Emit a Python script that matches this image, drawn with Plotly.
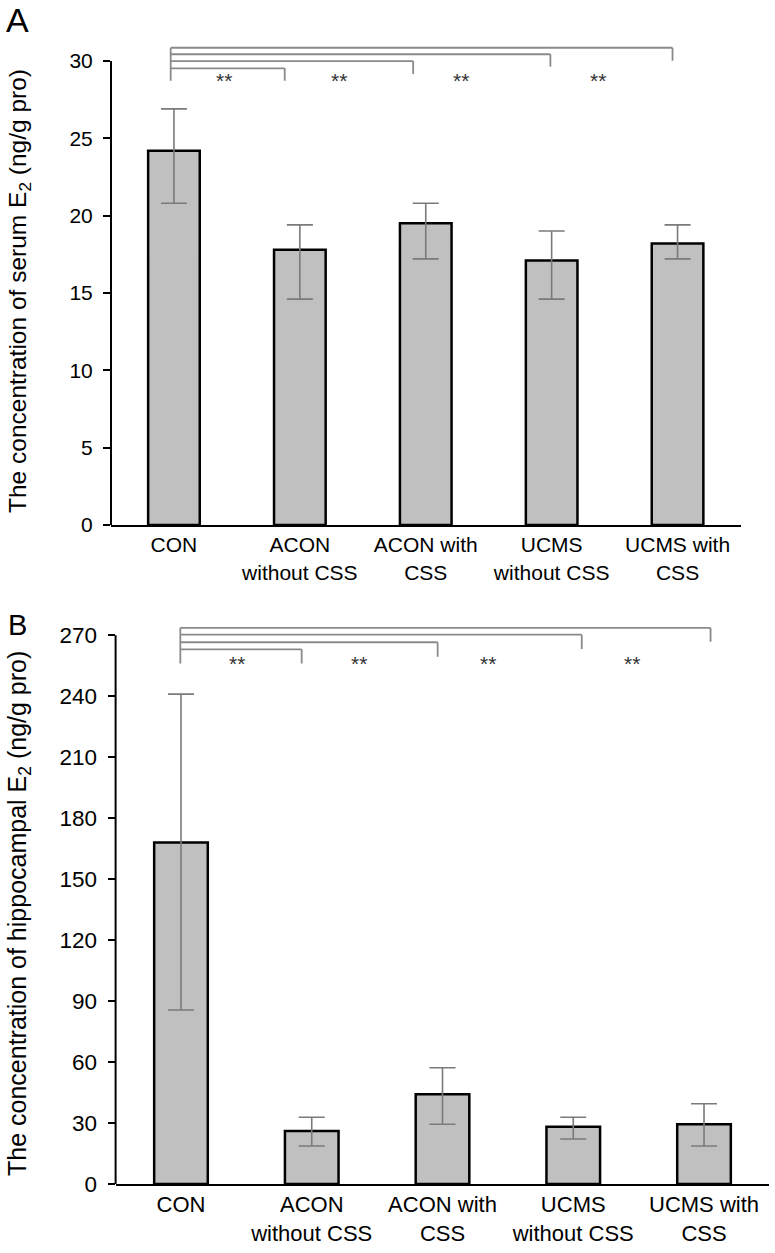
import plotly.graph_objects as go

# ---------------- data ----------------
categories = ["CON", "ACON<br>without CSS", "ACON with<br>CSS", "UCMS<br>without CSS", "UCMS with<br>CSS"]

serum_mean = [24.2, 17.8, 19.5, 17.1, 18.2]
serum_err_plus = [2.7, 1.6, 1.3, 1.9, 1.2]
serum_err_minus = [3.4, 3.2, 2.3, 2.5, 1.0]

hippo_mean = [168.0, 26.1, 44.1, 28.2, 29.4]
hippo_err_plus = [73.0, 6.7, 13.1, 4.6, 10.1]
hippo_err_minus = [82.4, 7.4, 14.7, 6.1, 10.7]

serum_ticks = [0, 5, 10, 15, 20, 25, 30]
hippo_ticks = [0, 30, 60, 90, 120, 150, 180, 210, 240, 270]

# significance brackets (CON vs each group), in axis units
top_bracket_left = -0.026
top_bracket_end = [0.88, 1.90, 2.99, 3.96]
top_bracket_level = [29.52, 29.99, 30.43, 30.85]
top_bracket_drop = [28.72, 29.15, 29.63, 30.01]
top_bracket_left_bottom = 28.72
top_star_x = [0.40, 1.31, 2.28, 3.37]
top_star_y = 28.75

bot_bracket_left = -0.005
bot_bracket_end = [0.923, 1.963, 3.065, 4.05]
bot_bracket_level = [263.0, 266.5, 270.2, 273.6]
bot_bracket_drop = [256.1, 259.4, 263.2, 266.7]
bot_bracket_left_bottom = 256.1
bot_star_x = [0.43, 1.36, 2.35, 3.45]
bot_star_y = 256.0

# ---------------- layout geometry ----------------
W, H = 775, 1253
FONT = "Liberation Sans, Arial, sans-serif"

top_xdom = [111 / W, 740.5 / W]
top_ydom = [1 - 525 / H, 1 - 37.7 / H]
top_yrange = [0, 31.5]

bot_xdom = [115.6 / W, 769.4 / W]
bot_ydom = [1 - 1184 / H, 1 - 614.8 / H]
bot_yrange = [0, 280]

BAR_FILL = "#c0c0c0"
ERR_COLOR = "#7a7a7a"
BRACKET_COLOR = "#8a8a8a"

fig = go.Figure()

x_idx = list(range(len(categories)))

fig.add_trace(go.Bar(
    x=x_idx, y=serum_mean, xaxis="x", yaxis="y",
    marker=dict(color=BAR_FILL, line=dict(color="black", width=2.5)),
    error_y=dict(type="data", symmetric=False, array=serum_err_plus,
                 arrayminus=serum_err_minus, color=ERR_COLOR, thickness=1.6, width=13),
    showlegend=False,
))
fig.add_trace(go.Bar(
    x=x_idx, y=hippo_mean, xaxis="x2", yaxis="y2",
    marker=dict(color=BAR_FILL, line=dict(color="black", width=2.5)),
    error_y=dict(type="data", symmetric=False, array=hippo_err_plus,
                 arrayminus=hippo_err_minus, color=ERR_COLOR, thickness=1.6, width=13),
    showlegend=False,
))

def xaxis_cfg(size):
    return dict(
        range=[-0.5, 4.5], tickmode="array", tickvals=x_idx, ticktext=categories,
        showline=True, linecolor="black", linewidth=2, ticks="", showgrid=False,
        zeroline=False, tickfont=dict(family=FONT, size=size, color="black"),
        fixedrange=True, automargin=False,
    )

def yaxis_cfg(size):
    return dict(
        showline=False, ticks="outside", ticklen=7, tickwidth=2, tickcolor="black",
        showgrid=False, zeroline=False, tickfont=dict(family=FONT, size=size, color="black"),
        fixedrange=True, automargin=False, ticklabelstandoff=6,
    )

fig.update_layout(
    template="none",
    width=W, height=H,
    margin=dict(l=0, r=0, t=0, b=0, autoexpand=False),
    paper_bgcolor="white", plot_bgcolor="white",
    bargap=0.59,
    font=dict(family=FONT, color="black"),
    xaxis=dict(domain=top_xdom, anchor="y", **xaxis_cfg(21)),
    yaxis=dict(domain=top_ydom, anchor="x", range=top_yrange, tickmode="array",
               tickvals=serum_ticks, **yaxis_cfg(21)),
    xaxis2=dict(domain=bot_xdom, anchor="y2", **xaxis_cfg(22)),
    yaxis2=dict(domain=bot_ydom, anchor="x2", range=bot_yrange, tickmode="array",
                tickvals=hippo_ticks, **yaxis_cfg(22.5)),
)

shapes = []

# y-axis lines (drawn from 0 to top tick)
def yline(xdom, ydom, yrange, ytop):
    y1 = ydom[0] + (ytop - yrange[0]) / (yrange[1] - yrange[0]) * (ydom[1] - ydom[0])
    return dict(type="line", xref="paper", yref="paper", x0=xdom[0], x1=xdom[0],
                y0=ydom[0], y1=y1, line=dict(color="black", width=2))

shapes.append(yline(top_xdom, top_ydom, top_yrange, serum_ticks[-1]))
shapes.append(yline(bot_xdom, bot_ydom, bot_yrange, hippo_ticks[-1]))

def brackets(xr, yr, left, ends, levels, drops, left_bottom):
    out = []
    out.append(dict(type="line", xref=xr, yref=yr, x0=left, x1=left,
                    y0=max(levels), y1=left_bottom,
                    line=dict(color=BRACKET_COLOR, width=1.8)))
    for e, lv, d in zip(ends, levels, drops):
        out.append(dict(type="line", xref=xr, yref=yr, x0=left, x1=e, y0=lv, y1=lv,
                        line=dict(color=BRACKET_COLOR, width=1.8)))
        out.append(dict(type="line", xref=xr, yref=yr, x0=e, x1=e, y0=lv, y1=d,
                        line=dict(color=BRACKET_COLOR, width=1.8)))
    return out

shapes += brackets("x", "y", top_bracket_left, top_bracket_end, top_bracket_level,
                   top_bracket_drop, top_bracket_left_bottom)
shapes += brackets("x2", "y2", bot_bracket_left, bot_bracket_end, bot_bracket_level,
                   bot_bracket_drop, bot_bracket_left_bottom)
fig.update_layout(shapes=shapes)

annotations = []
for sx in top_star_x:
    annotations.append(dict(x=sx, y=top_star_y, xref="x", yref="y", text="**",
                            showarrow=False, font=dict(family=FONT, size=21, color="#333333"),
                            yanchor="middle"))
for sx in bot_star_x:
    annotations.append(dict(x=sx, y=bot_star_y, xref="x2", yref="y2", text="**",
                            showarrow=False, font=dict(family=FONT, size=21, color="#333333"),
                            yanchor="middle"))

# panel letters
annotations.append(dict(x=17.5 / W, y=1 - 19.5 / H, xref="paper", yref="paper", text="A",
                        showarrow=False, xanchor="center", yanchor="middle",
                        font=dict(family=FONT, size=34, color="black")))
annotations.append(dict(x=17 / W, y=1 - 625 / H, xref="paper", yref="paper", text="B",
                        showarrow=False, xanchor="center", yanchor="middle",
                        font=dict(family=FONT, size=29, color="black")))

# y-axis titles
annotations.append(dict(x=19 / W, y=1 - 291 / H, xref="paper", yref="paper",
                        text="The concentration of serum E<sub>2</sub> (ng/g pro)",
                        textangle=-90, showarrow=False, xanchor="center", yanchor="middle",
                        font=dict(family=FONT, size=24.5, color="black")))
annotations.append(dict(x=19 / W, y=1 - 914 / H, xref="paper", yref="paper",
                        text="The concentration of hippocampal E<sub>2</sub> (ng/g pro)",
                        textangle=-90, showarrow=False, xanchor="center", yanchor="middle",
                        font=dict(family=FONT, size=25, color="black")))

fig.update_layout(annotations=annotations)

fig.write_html(
    "out.html",
    config={"displayModeBar": False, "staticPlot": True},
    post_script="document.body.style.margin='0';document.body.style.overflow='hidden';",
)
